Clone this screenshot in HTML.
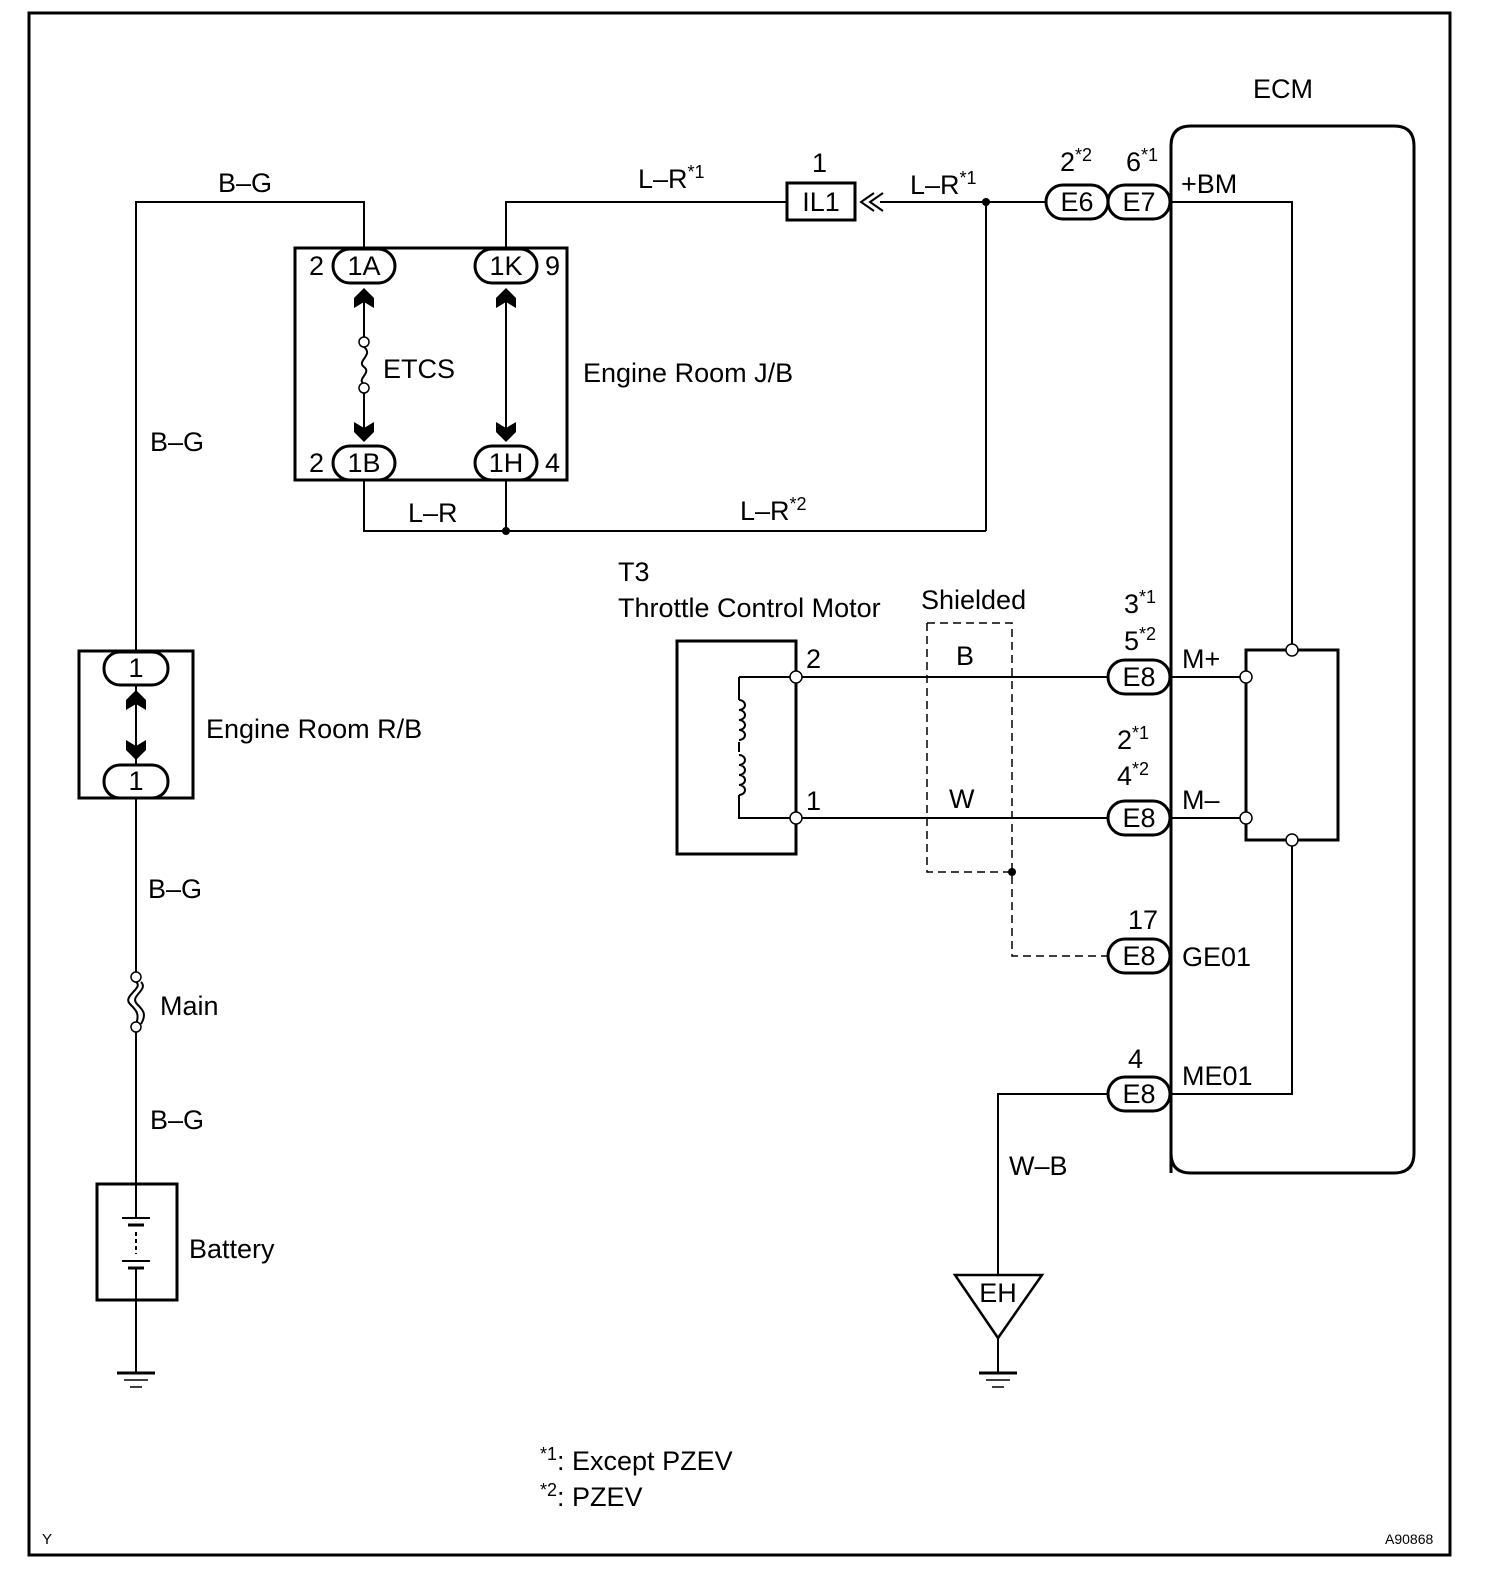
<!DOCTYPE html>
<html><head><meta charset="utf-8"><style>html,body{margin:0;padding:0;background:#fff}svg{display:block}text{font-family:"Liberation Sans",Arial,sans-serif;fill:#000}</style></head><body>
<svg width="1504" height="1578" viewBox="0 0 1504 1578" xmlns="http://www.w3.org/2000/svg">
<defs>
<polygon id="up" points="-10,6 0,-4 10,6 10,16 0,10 -10,16" fill="#000"/>
<polygon id="dn" points="-10,-6 0,4 10,-6 10,-16 0,-10 -10,-16" fill="#000"/>
</defs>
<rect x="29" y="13" width="1421" height="1542" fill="none" stroke="#000" stroke-width="3"/>
<g fill="none" stroke="#000" stroke-width="2">
<polyline points="136,652 136,202 364,202 364,249"/>
<polyline points="506,249 506,202 787,202"/>
<line x1="880" y1="202" x2="1048" y2="202"/>
<line x1="986" y1="202" x2="986" y2="531"/>
<polyline points="364,480 364,531 986,531"/>
<line x1="506" y1="480" x2="506" y2="531"/>
<line x1="364" y1="300" x2="364" y2="342"/>
<line x1="364" y1="388" x2="364" y2="430"/>
<line x1="506" y1="300" x2="506" y2="430"/>
<polyline points="1171,202 1292,202 1292,646"/>
<line x1="796" y1="677" x2="1108" y2="677"/>
<line x1="796" y1="818" x2="1108" y2="818"/>
<line x1="1171" y1="677" x2="1242" y2="677"/>
<line x1="1171" y1="818" x2="1242" y2="818"/>
<polyline points="1171,1094 1292,1094 1292,844"/>
<polyline points="1108,1094 998,1094 998,1275"/>
<line x1="998" y1="1338" x2="998" y2="1372"/>
<polyline points="739,677 796,677"/>
<polyline points="739,677 739,700"/>
<polyline points="739,795 739,818 796,818"/>
<line x1="739" y1="742" x2="739" y2="752"/>
<path d="M739,700 a6,5 0 1 1 0,10 a6,5 0 1 1 0,10 a6,5 0 1 1 0,10 a6,5 0 1 1 0,10 M739,755 a6,5 0 1 1 0,10 a6,5 0 1 1 0,10 a6,5 0 1 1 0,10 a6,5 0 1 1 0,10"/>
<line x1="136" y1="685" x2="136" y2="765"/>
<line x1="136" y1="798" x2="136" y2="972"/>
<line x1="136" y1="1032" x2="136" y2="1218"/>
<line x1="136" y1="1268" x2="136" y2="1372"/>
<line x1="136" y1="1232" x2="136" y2="1254" stroke-dasharray="4,3"/>
<line x1="122" y1="1218" x2="150" y2="1218"/>
<line x1="128" y1="1225" x2="144" y2="1225" stroke-width="3"/>
<line x1="122" y1="1261" x2="150" y2="1261"/>
<line x1="128" y1="1268" x2="144" y2="1268" stroke-width="3"/>
<path d="M364,347 c10,8 -8,14 0,20 c8,6 -8,12 0,17"/>
<path d="M136,982 c8,6 -14,14 -6,22 c6,6 10,10 6,20 M141,982 c8,8 -12,14 -4,22 c6,6 10,10 4,20"/>
<g stroke-dasharray="8,5" stroke-width="1.5"><polyline points="927,623 1012,623 1012,956 1108,956"/><polyline points="927,623 927,872 1012,872"/></g>
</g>
<g fill="none" stroke="#000" stroke-width="3">
<rect x="295" y="248" width="272" height="232"/>
<rect x="787" y="183" width="68" height="37"/>
<path d="M1171,1173 V146 q0,-20 20,-20 H1394 q20,0 20,20 V1153 q0,20 -20,20 H1191 q-20,0 -20,-20"/>
<rect x="1246" y="650" width="92" height="190"/>
<rect x="677" y="641" width="119" height="213"/>
<rect x="79" y="651" width="114" height="147"/>
<rect x="97" y="1184" width="80" height="116"/>
<polygon points="955,1275 1042,1275 998,1338" stroke-width="2.5"/>
<line x1="979" y1="1373" x2="1017" y2="1373"/>
<line x1="117" y1="1373" x2="155" y2="1373"/>
<polyline points="883,193 870,202 883,211" stroke-width="2"/><polyline points="874,193 861,202 874,211" stroke-width="2"/>
</g>
<g stroke="#000" stroke-width="1.5"><line x1="986" y1="1380" x2="1010" y2="1380"/><line x1="992" y1="1387" x2="1004" y2="1387"/><line x1="124" y1="1380" x2="148" y2="1380"/><line x1="130" y1="1387" x2="142" y2="1387"/></g>
<g fill="#fff" stroke="#000" stroke-width="3">
<rect x="333" y="249" width="62" height="34" rx="17"/><rect x="475" y="249" width="62" height="34" rx="17"/>
<rect x="333" y="446" width="62" height="34" rx="17"/><rect x="475" y="446" width="62" height="34" rx="17"/>
<rect x="1046" y="185" width="62" height="34" rx="17"/><rect x="1108" y="185" width="62" height="34" rx="17"/>
<rect x="1108" y="660" width="62" height="34" rx="17"/><rect x="1108" y="801" width="62" height="34" rx="17"/>
<rect x="1108" y="939" width="62" height="34" rx="17"/><rect x="1108" y="1077" width="62" height="34" rx="17"/>
<rect x="104" y="652" width="64" height="33" rx="16"/><rect x="104" y="765" width="64" height="33" rx="16"/>
</g>
<g fill="#fff" stroke="#000" stroke-width="1.5">
<circle cx="364" cy="342" r="5"/><circle cx="364" cy="388" r="5"/>
<circle cx="136" cy="977" r="5"/><circle cx="136" cy="1027" r="5"/>
<circle cx="796" cy="677" r="6"/><circle cx="796" cy="818" r="6"/>
<circle cx="1292" cy="650" r="6"/><circle cx="1292" cy="840" r="6"/>
<circle cx="1246" cy="677" r="6"/><circle cx="1246" cy="818" r="6"/>
</g>
<g fill="#000"><circle cx="986" cy="202" r="4"/><circle cx="506" cy="531" r="4"/><circle cx="1012" cy="872" r="4"/></g>
<use href="#up" x="364" y="292"/><use href="#up" x="506" y="292"/><use href="#dn" x="364" y="438"/><use href="#dn" x="506" y="438"/>
<use href="#up" x="136" y="694"/><use href="#dn" x="136" y="756"/>
<g font-size="27">
<text x="218" y="192">B–G</text><text x="150" y="451">B–G</text><text x="148" y="898">B–G</text><text x="150" y="1129">B–G</text>
<text x="638" y="188">L–R<tspan font-size="18" dy="-10">*1</tspan></text>
<text x="812" y="172">1</text><text x="821" y="211" text-anchor="middle">IL1</text>
<text x="910" y="194">L–R<tspan font-size="18" dy="-10">*1</tspan></text>
<text x="1060" y="171">2<tspan font-size="18" dy="-10">*2</tspan></text>
<text x="1126" y="171">6<tspan font-size="18" dy="-10">*1</tspan></text>
<text x="1253" y="98">ECM</text><text x="1181" y="193">+BM</text>
<text x="1077" y="211" text-anchor="middle">E6</text><text x="1139" y="211" text-anchor="middle">E7</text>
<text x="364" y="275" text-anchor="middle">1A</text><text x="506" y="275" text-anchor="middle">1K</text>
<text x="364" y="472" text-anchor="middle">1B</text><text x="506" y="472" text-anchor="middle">1H</text>
<text x="309" y="275">2</text><text x="545" y="275">9</text><text x="309" y="472">2</text><text x="545" y="472">4</text>
<text x="383" y="378">ETCS</text><text x="583" y="382">Engine Room J/B</text>
<text x="408" y="522">L–R</text><text x="740" y="520">L–R<tspan font-size="18" dy="-10">*2</tspan></text>
<text x="618" y="581">T3</text><text x="618" y="617">Throttle Control Motor</text>
<text x="921" y="609">Shielded</text>
<text x="1124" y="613">3<tspan font-size="18" dy="-10">*1</tspan></text>
<text x="1124" y="650">5<tspan font-size="18" dy="-10">*2</tspan></text>
<text x="806" y="668">2</text><text x="956" y="665">B</text><text x="806" y="810">1</text><text x="949" y="808">W</text>
<text x="1139" y="686" text-anchor="middle">E8</text><text x="1139" y="827" text-anchor="middle">E8</text>
<text x="1139" y="965" text-anchor="middle">E8</text><text x="1139" y="1103" text-anchor="middle">E8</text>
<text x="1182" y="668">M+</text><text x="1182" y="809">M–</text>
<text x="1117" y="749">2<tspan font-size="18" dy="-10">*1</tspan></text>
<text x="1117" y="785">4<tspan font-size="18" dy="-10">*2</tspan></text>
<text x="1128" y="929">17</text><text x="1182" y="966">GE01</text>
<text x="1128" y="1068">4</text><text x="1182" y="1085">ME01</text>
<text x="1009" y="1175">W–B</text><text x="998" y="1302" text-anchor="middle">EH</text>
<text x="136" y="677" text-anchor="middle">1</text><text x="136" y="790" text-anchor="middle">1</text>
<text x="206" y="738">Engine Room R/B</text><text x="160" y="1015">Main</text><text x="189" y="1258">Battery</text>
<text x="540" y="1470"><tspan font-size="18" dy="-10">*1</tspan><tspan dy="10">: Except PZEV</tspan></text>
<text x="540" y="1506"><tspan font-size="18" dy="-10">*2</tspan><tspan dy="10">: PZEV</tspan></text>
</g>
<text x="42" y="1544" font-size="15">Y</text><text x="1385" y="1544" font-size="14">A90868</text>
</svg>
</body></html>
